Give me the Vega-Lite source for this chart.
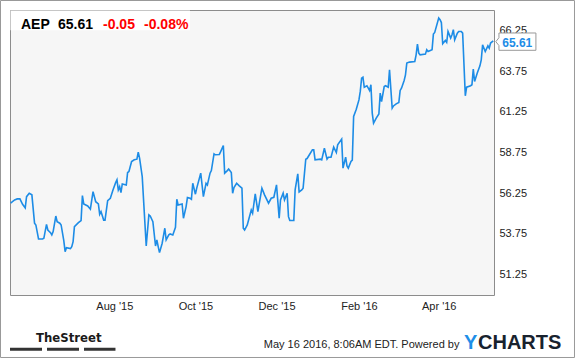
{
  "$schema": "https://vega.github.io/schema/vega-lite/v6.json",
  "width": 484,
  "height": 285,
  "autosize": {"type": "none"},
  "padding": {"left": 10, "top": 10, "right": 81, "bottom": 63},
  "background": "white",
  "config": {
    "view": {"stroke": "#8c8c8c", "strokeWidth": 1, "fill": "#f6f6f6"},
    "font": "Liberation Sans"
  },
  "data": {
    "values": [
      {"date": "2015-05-15", "price": 55.64}, {"date": "2015-05-18", "price": 55.84}, {"date": "2015-05-20", "price": 55.90},
      {"date": "2015-05-22", "price": 55.90}, {"date": "2015-05-24", "price": 55.57}, {"date": "2015-05-26", "price": 55.35},
      {"date": "2015-05-27", "price": 56.04}, {"date": "2015-05-29", "price": 56.25}, {"date": "2015-05-31", "price": 56.15},
      {"date": "2015-06-02", "price": 54.41}, {"date": "2015-06-03", "price": 54.30}, {"date": "2015-06-05", "price": 53.44},
      {"date": "2015-06-08", "price": 53.44}, {"date": "2015-06-09", "price": 53.48}, {"date": "2015-06-11", "price": 54.34},
      {"date": "2015-06-12", "price": 53.99}, {"date": "2015-06-14", "price": 53.83}, {"date": "2015-06-15", "price": 53.69},
      {"date": "2015-06-16", "price": 53.89}, {"date": "2015-06-18", "price": 54.85}, {"date": "2015-06-19", "price": 54.50},
      {"date": "2015-06-21", "price": 54.41}, {"date": "2015-06-22", "price": 54.30}, {"date": "2015-06-24", "price": 53.34},
      {"date": "2015-06-25", "price": 52.66}, {"date": "2015-06-26", "price": 52.90}, {"date": "2015-06-29", "price": 52.85},
      {"date": "2015-06-30", "price": 52.97}, {"date": "2015-07-01", "price": 53.28}, {"date": "2015-07-02", "price": 54.20},
      {"date": "2015-07-05", "price": 54.44}, {"date": "2015-07-07", "price": 54.57}, {"date": "2015-07-08", "price": 56.10},
      {"date": "2015-07-09", "price": 55.59}, {"date": "2015-07-12", "price": 55.47}, {"date": "2015-07-14", "price": 55.27},
      {"date": "2015-07-16", "price": 56.35}, {"date": "2015-07-18", "price": 55.73}, {"date": "2015-07-20", "price": 55.59},
      {"date": "2015-07-21", "price": 54.96}, {"date": "2015-07-22", "price": 55.12}, {"date": "2015-07-24", "price": 54.60},
      {"date": "2015-07-25", "price": 54.60}, {"date": "2015-07-27", "price": 55.80}, {"date": "2015-07-29", "price": 55.94},
      {"date": "2015-07-31", "price": 56.45}, {"date": "2015-08-02", "price": 56.90}, {"date": "2015-08-03", "price": 57.07},
      {"date": "2015-08-04", "price": 56.45}, {"date": "2015-08-05", "price": 56.65}, {"date": "2015-08-06", "price": 56.29},
      {"date": "2015-08-07", "price": 56.82}, {"date": "2015-08-10", "price": 56.76}, {"date": "2015-08-11", "price": 57.52},
      {"date": "2015-08-12", "price": 57.58}, {"date": "2015-08-14", "price": 58.19}, {"date": "2015-08-16", "price": 58.30},
      {"date": "2015-08-18", "price": 58.34}, {"date": "2015-08-19", "price": 58.77}, {"date": "2015-08-20", "price": 58.40},
      {"date": "2015-08-22", "price": 57.27}, {"date": "2015-08-23", "price": 55.84}, {"date": "2015-08-25", "price": 53.01},
      {"date": "2015-08-27", "price": 54.92}, {"date": "2015-08-28", "price": 54.85}, {"date": "2015-08-30", "price": 54.50},
      {"date": "2015-09-01", "price": 53.01}, {"date": "2015-09-02", "price": 53.38}, {"date": "2015-09-03", "price": 52.97},
      {"date": "2015-09-04", "price": 52.60}, {"date": "2015-09-06", "price": 53.18}, {"date": "2015-09-08", "price": 54.10},
      {"date": "2015-09-09", "price": 53.38}, {"date": "2015-09-11", "price": 53.69}, {"date": "2015-09-12", "price": 53.75},
      {"date": "2015-09-14", "price": 53.69}, {"date": "2015-09-16", "price": 54.16}, {"date": "2015-09-17", "price": 55.88},
      {"date": "2015-09-18", "price": 55.53}, {"date": "2015-09-21", "price": 55.59}, {"date": "2015-09-22", "price": 54.71},
      {"date": "2015-09-24", "price": 55.43}, {"date": "2015-09-25", "price": 55.98}, {"date": "2015-09-27", "price": 55.94},
      {"date": "2015-09-28", "price": 55.88}, {"date": "2015-09-29", "price": 56.86}, {"date": "2015-10-01", "price": 56.19},
      {"date": "2015-10-02", "price": 56.56}, {"date": "2015-10-05", "price": 57.48}, {"date": "2015-10-07", "price": 56.04},
      {"date": "2015-10-09", "price": 56.86}, {"date": "2015-10-10", "price": 56.76}, {"date": "2015-10-12", "price": 57.48},
      {"date": "2015-10-13", "price": 57.64}, {"date": "2015-10-15", "price": 58.67}, {"date": "2015-10-16", "price": 58.61},
      {"date": "2015-10-19", "price": 58.63}, {"date": "2015-10-20", "price": 58.80}, {"date": "2015-10-22", "price": 59.18},
      {"date": "2015-10-23", "price": 57.48}, {"date": "2015-10-25", "price": 57.64}, {"date": "2015-10-26", "price": 57.73},
      {"date": "2015-10-28", "price": 57.52}, {"date": "2015-10-29", "price": 56.25}, {"date": "2015-10-30", "price": 56.60},
      {"date": "2015-11-01", "price": 56.86}, {"date": "2015-11-03", "price": 56.70}, {"date": "2015-11-05", "price": 56.56},
      {"date": "2015-11-06", "price": 54.10}, {"date": "2015-11-07", "price": 53.99}, {"date": "2015-11-09", "price": 54.30},
      {"date": "2015-11-12", "price": 55.22}, {"date": "2015-11-13", "price": 55.02}, {"date": "2015-11-15", "price": 56.21},
      {"date": "2015-11-17", "price": 55.12}, {"date": "2015-11-20", "price": 56.56}, {"date": "2015-11-22", "price": 56.15},
      {"date": "2015-11-25", "price": 55.64}, {"date": "2015-11-27", "price": 55.94}, {"date": "2015-11-29", "price": 56.00},
      {"date": "2015-12-01", "price": 56.76}, {"date": "2015-12-03", "price": 54.71}, {"date": "2015-12-04", "price": 55.84},
      {"date": "2015-12-05", "price": 56.04}, {"date": "2015-12-06", "price": 56.25}, {"date": "2015-12-07", "price": 55.84},
      {"date": "2015-12-09", "price": 56.25}, {"date": "2015-12-10", "price": 54.81}, {"date": "2015-12-11", "price": 54.57},
      {"date": "2015-12-14", "price": 54.57}, {"date": "2015-12-15", "price": 56.45}, {"date": "2015-12-17", "price": 57.44},
      {"date": "2015-12-18", "price": 56.33}, {"date": "2015-12-20", "price": 56.45}, {"date": "2015-12-21", "price": 56.56},
      {"date": "2015-12-23", "price": 58.34}, {"date": "2015-12-24", "price": 58.38}, {"date": "2015-12-28", "price": 58.91},
      {"date": "2015-12-29", "price": 58.91}, {"date": "2015-12-30", "price": 58.30}, {"date": "2016-01-03", "price": 58.34},
      {"date": "2016-01-04", "price": 58.30}, {"date": "2016-01-06", "price": 59.01}, {"date": "2016-01-08", "price": 58.34},
      {"date": "2016-01-09", "price": 58.46}, {"date": "2016-01-11", "price": 58.46}, {"date": "2016-01-13", "price": 59.08},
      {"date": "2016-01-15", "price": 58.75}, {"date": "2016-01-16", "price": 59.22}, {"date": "2016-01-19", "price": 59.57},
      {"date": "2016-01-20", "price": 57.79}, {"date": "2016-01-22", "price": 58.46}, {"date": "2016-01-23", "price": 57.93},
      {"date": "2016-01-24", "price": 57.79}, {"date": "2016-01-26", "price": 58.20}, {"date": "2016-01-27", "price": 58.28},
      {"date": "2016-01-28", "price": 60.96}, {"date": "2016-01-30", "price": 61.41}, {"date": "2016-02-01", "price": 61.98},
      {"date": "2016-02-02", "price": 62.50}, {"date": "2016-02-03", "price": 63.32}, {"date": "2016-02-04", "price": 63.38},
      {"date": "2016-02-05", "price": 62.76}, {"date": "2016-02-07", "price": 62.85}, {"date": "2016-02-09", "price": 62.56},
      {"date": "2016-02-10", "price": 62.91}, {"date": "2016-02-11", "price": 61.17}, {"date": "2016-02-12", "price": 60.55},
      {"date": "2016-02-14", "price": 60.86}, {"date": "2016-02-16", "price": 61.12}, {"date": "2016-02-17", "price": 62.40},
      {"date": "2016-02-18", "price": 61.88}, {"date": "2016-02-20", "price": 62.80}, {"date": "2016-02-21", "price": 62.85},
      {"date": "2016-02-23", "price": 62.76}, {"date": "2016-02-24", "price": 63.83}, {"date": "2016-02-26", "price": 61.47},
      {"date": "2016-02-27", "price": 61.61}, {"date": "2016-02-29", "price": 61.74}, {"date": "2016-03-02", "price": 61.82},
      {"date": "2016-03-03", "price": 62.56}, {"date": "2016-03-04", "price": 62.70}, {"date": "2016-03-06", "price": 63.17},
      {"date": "2016-03-07", "price": 63.52}, {"date": "2016-03-08", "price": 64.24}, {"date": "2016-03-10", "price": 64.30},
      {"date": "2016-03-14", "price": 64.34}, {"date": "2016-03-15", "price": 64.75}, {"date": "2016-03-16", "price": 65.40},
      {"date": "2016-03-17", "price": 64.85}, {"date": "2016-03-18", "price": 64.75}, {"date": "2016-03-22", "price": 64.79},
      {"date": "2016-03-23", "price": 65.06}, {"date": "2016-03-24", "price": 64.95}, {"date": "2016-03-27", "price": 65.06},
      {"date": "2016-03-28", "price": 66.02}, {"date": "2016-03-29", "price": 66.12}, {"date": "2016-04-01", "price": 67.01},
      {"date": "2016-04-02", "price": 66.90}, {"date": "2016-04-03", "price": 66.73}, {"date": "2016-04-04", "price": 65.43},
      {"date": "2016-04-06", "price": 65.63}, {"date": "2016-04-07", "price": 65.51}, {"date": "2016-04-08", "price": 66.18},
      {"date": "2016-04-10", "price": 65.78}, {"date": "2016-04-11", "price": 65.98}, {"date": "2016-04-12", "price": 66.29},
      {"date": "2016-04-13", "price": 65.67}, {"date": "2016-04-15", "price": 66.08}, {"date": "2016-04-16", "price": 66.18},
      {"date": "2016-04-18", "price": 66.18}, {"date": "2016-04-19", "price": 66.08}, {"date": "2016-04-21", "price": 62.23},
      {"date": "2016-04-22", "price": 62.76}, {"date": "2016-04-25", "price": 62.85}, {"date": "2016-04-26", "price": 62.91},
      {"date": "2016-04-27", "price": 63.87}, {"date": "2016-04-28", "price": 63.11}, {"date": "2016-04-30", "price": 63.63},
      {"date": "2016-05-02", "price": 64.07}, {"date": "2016-05-03", "price": 64.44}, {"date": "2016-05-04", "price": 65.36},
      {"date": "2016-05-06", "price": 64.95}, {"date": "2016-05-08", "price": 65.30}, {"date": "2016-05-09", "price": 65.16},
      {"date": "2016-05-10", "price": 65.47}, {"date": "2016-05-12", "price": 65.61}
    ]
  },
  "layer": [
    {
      "data": {"values": [{}]},
      "mark": {"type": "rect", "fill": "white", "stroke": null},
      "encoding": {
        "x": {"datum": {"year": 2015, "month": 5, "date": 14, "hours": 22, "utc": true}, "type": "temporal"},
        "x2": {"datum": {"year": 2015, "month": 9, "date": 26, "hours": 22, "utc": true}},
        "y": {"datum": 67.47, "type": "quantitative"},
        "y2": {"datum": 66.25}
      }
    },
    {
      "mark": {"type": "line", "color": "#1d8ce6", "strokeWidth": 1.6, "interpolate": "linear"},
      "encoding": {
        "x": {
          "field": "date",
          "type": "temporal",
          "title": null,
          "scale": {
            "type": "utc",
            "domain": [
              {"year": 2015, "month": 5, "date": 14, "hours": 13, "utc": true},
              {"year": 2016, "month": 5, "date": 12, "hours": 14, "utc": true}
            ]
          },
          "axis": {
            "values": [
              {"year": 2015, "month": 8, "date": 1, "utc": true},
              {"year": 2015, "month": 10, "date": 1, "utc": true},
              {"year": 2015, "month": 12, "date": 1, "utc": true},
              {"year": 2016, "month": 2, "date": 1, "utc": true},
              {"year": 2016, "month": 4, "date": 1, "utc": true}
            ],
            "labelExpr": "utcFormat(datum.value, \"%b '%y\")",
            "ticks": false,
            "domain": false,
            "labelPadding": 5,
            "labelFontSize": 11,
            "labelColor": "#222222",
            "labelFont": "Liberation Sans",
            "gridColor": "#d9d9d9",
            "labelFlush": false,
            "title": null
          }
        },
        "y": {
          "field": "price",
          "type": "quantitative",
          "title": null,
          "scale": {"domain": [50, 67.5], "nice": false, "zero": false},
          "axis": {
            "orient": "right",
            "values": [51.25, 53.75, 56.25, 58.75, 61.25, 63.75, 66.25],
            "format": ".2f",
            "ticks": false,
            "domain": false,
            "labelPadding": 5,
            "labelFontSize": 11,
            "labelColor": "#222222",
            "labelFont": "Liberation Sans",
            "labelAlign": "left",
            "gridColor": "#d9d9d9",
            "title": null
          }
        }
      }
    },
    {
      "transform": [{"filter": "utcyear(datum.date) == 2016 && utcmonth(datum.date) == 4 && utcdate(datum.date) == 12"}],
      "mark": {
        "type": "point",
        "shape": "M0.3,0.1 L0.66,-0.35 L0.66,-0.9 L4.93,-0.9 L4.93,1.1 L0.66,1.1 L0.66,0.55 Z",
        "size": 300,
        "filled": true,
        "fill": "white",
        "stroke": "#999999",
        "strokeWidth": 1,
        "opacity": 1
      },
      "encoding": {
        "x": {"field": "date", "type": "temporal"},
        "y": {"field": "price", "type": "quantitative"}
      }
    },
    {
      "transform": [{"filter": "utcyear(datum.date) == 2016 && utcmonth(datum.date) == 4 && utcdate(datum.date) == 12"}],
      "mark": {"type": "text", "align": "left", "baseline": "alphabetic", "dx": 9, "dy": 6, "fontSize": 12, "fontWeight": "bold", "color": "#1d8ce6", "font": "Liberation Sans"},
      "encoding": {
        "x": {"field": "date", "type": "temporal"},
        "y": {"field": "price", "type": "quantitative"},
        "text": {"field": "price", "type": "quantitative", "format": ".2f"}
      }
    },
    {
      "data": {"values": [{}]},
      "mark": {"type": "text", "text": "AEP", "align": "left", "baseline": "alphabetic", "fontSize": 14, "fontWeight": "bold", "color": "#000000", "font": "Liberation Sans"},
      "encoding": {
        "x": {"datum": {"year": 2015, "month": 5, "date": 22, "hours": 19, "minutes": 40, "utc": true}, "type": "temporal"},
        "y": {"datum": 66.315, "type": "quantitative"}
      }
    },
    {
      "data": {"values": [{}]},
      "mark": {"type": "text", "text": "65.61", "align": "left", "baseline": "alphabetic", "fontSize": 14, "fontWeight": "bold", "color": "#000000", "font": "Liberation Sans"},
      "encoding": {
        "x": {"datum": {"year": 2015, "month": 6, "date": 19, "hours": 15, "minutes": 36, "utc": true}, "type": "temporal"},
        "y": {"datum": 66.315, "type": "quantitative"}
      }
    },
    {
      "data": {"values": [{}]},
      "mark": {"type": "text", "text": "-0.05", "align": "left", "baseline": "alphabetic", "fontSize": 14, "fontWeight": "bold", "color": "#ff0000", "font": "Liberation Sans"},
      "encoding": {
        "x": {"datum": {"year": 2015, "month": 7, "date": 23, "hours": 12, "utc": true}, "type": "temporal"},
        "y": {"datum": 66.315, "type": "quantitative"}
      }
    },
    {
      "data": {"values": [{}]},
      "mark": {"type": "text", "text": "-0.08%", "align": "left", "baseline": "alphabetic", "fontSize": 14, "fontWeight": "bold", "color": "#ff0000", "font": "Liberation Sans"},
      "encoding": {
        "x": {"datum": {"year": 2015, "month": 8, "date": 23, "hours": 8, "minutes": 10, "utc": true}, "type": "temporal"},
        "y": {"datum": 66.315, "type": "quantitative"}
      }
    },
    {
      "data": {"values": [{}]},
      "mark": {"type": "text", "text": "TheStreet", "align": "left", "baseline": "alphabetic", "fontSize": 13, "fontWeight": "bold", "color": "#1a1a1a", "font": "Liberation Sans Narrow, DejaVu Sans Condensed, sans-serif"},
      "encoding": {
        "x": {"datum": {"year": 2015, "month": 6, "date": 3, "hours": 2, "minutes": 24, "utc": true}, "type": "temporal"},
        "y": {"datum": 47.133, "type": "quantitative"}
      }
    },
    {
      "data": {"values": [{}]},
      "mark": {"type": "rule", "color": "#333333", "strokeWidth": 3, "strokeDash": [32, 5], "strokeCap": "butt"},
      "encoding": {
        "x": {"datum": {"year": 2015, "month": 5, "date": 14, "hours": 13, "utc": true}, "type": "temporal"},
        "x2": {"datum": {"year": 2015, "month": 8, "date": 1, "hours": 21, "utc": true}},
        "y": {"datum": 46.672, "type": "quantitative"}
      }
    },
    {
      "data": {"values": [{}]},
      "mark": {"type": "text", "text": "May 16 2016, 8:06AM EDT. Powered by", "align": "right", "baseline": "alphabetic", "fontSize": 11, "color": "#222222", "font": "Liberation Sans"},
      "encoding": {
        "x": {"datum": {"year": 2016, "month": 4, "date": 16, "hours": 14, "minutes": 24, "utc": true}, "type": "temporal"},
        "y": {"datum": 46.727, "type": "quantitative"}
      }
    },
    {
      "data": {"values": [{}]},
      "mark": {"type": "text", "text": "Y", "align": "left", "baseline": "alphabetic", "fontSize": 20, "fontWeight": "bold", "color": "#1e8fe8", "font": "Liberation Sans"},
      "encoding": {
        "x": {"datum": {"year": 2016, "month": 4, "date": 20, "hours": 0, "minutes": 43, "utc": true}, "type": "temporal"},
        "y": {"datum": 46.685, "type": "quantitative"}
      }
    },
    {
      "data": {"values": [{}]},
      "mark": {"type": "text", "text": "CHARTS", "align": "left", "baseline": "alphabetic", "fontSize": 20, "fontWeight": "bold", "color": "#18222e", "font": "Liberation Sans"},
      "encoding": {
        "x": {"datum": {"year": 2016, "month": 4, "date": 30, "hours": 13, "minutes": 26, "utc": true}, "type": "temporal"},
        "y": {"datum": 46.685, "type": "quantitative"}
      }
    },
    {
      "data": {"values": [{}]},
      "mark": {"type": "rect", "fill": null, "fillOpacity": 0, "stroke": "#999999", "strokeWidth": 1},
      "encoding": {
        "x": {"datum": {"year": 2015, "month": 5, "date": 7, "hours": 9, "minutes": 31, "utc": true}, "type": "temporal"},
        "x2": {"datum": {"year": 2016, "month": 7, "date": 12, "hours": 3, "utc": true}},
        "y": {"datum": 68.083, "type": "quantitative"},
        "y2": {"datum": 46.163}
      }
    }
  ]
}
